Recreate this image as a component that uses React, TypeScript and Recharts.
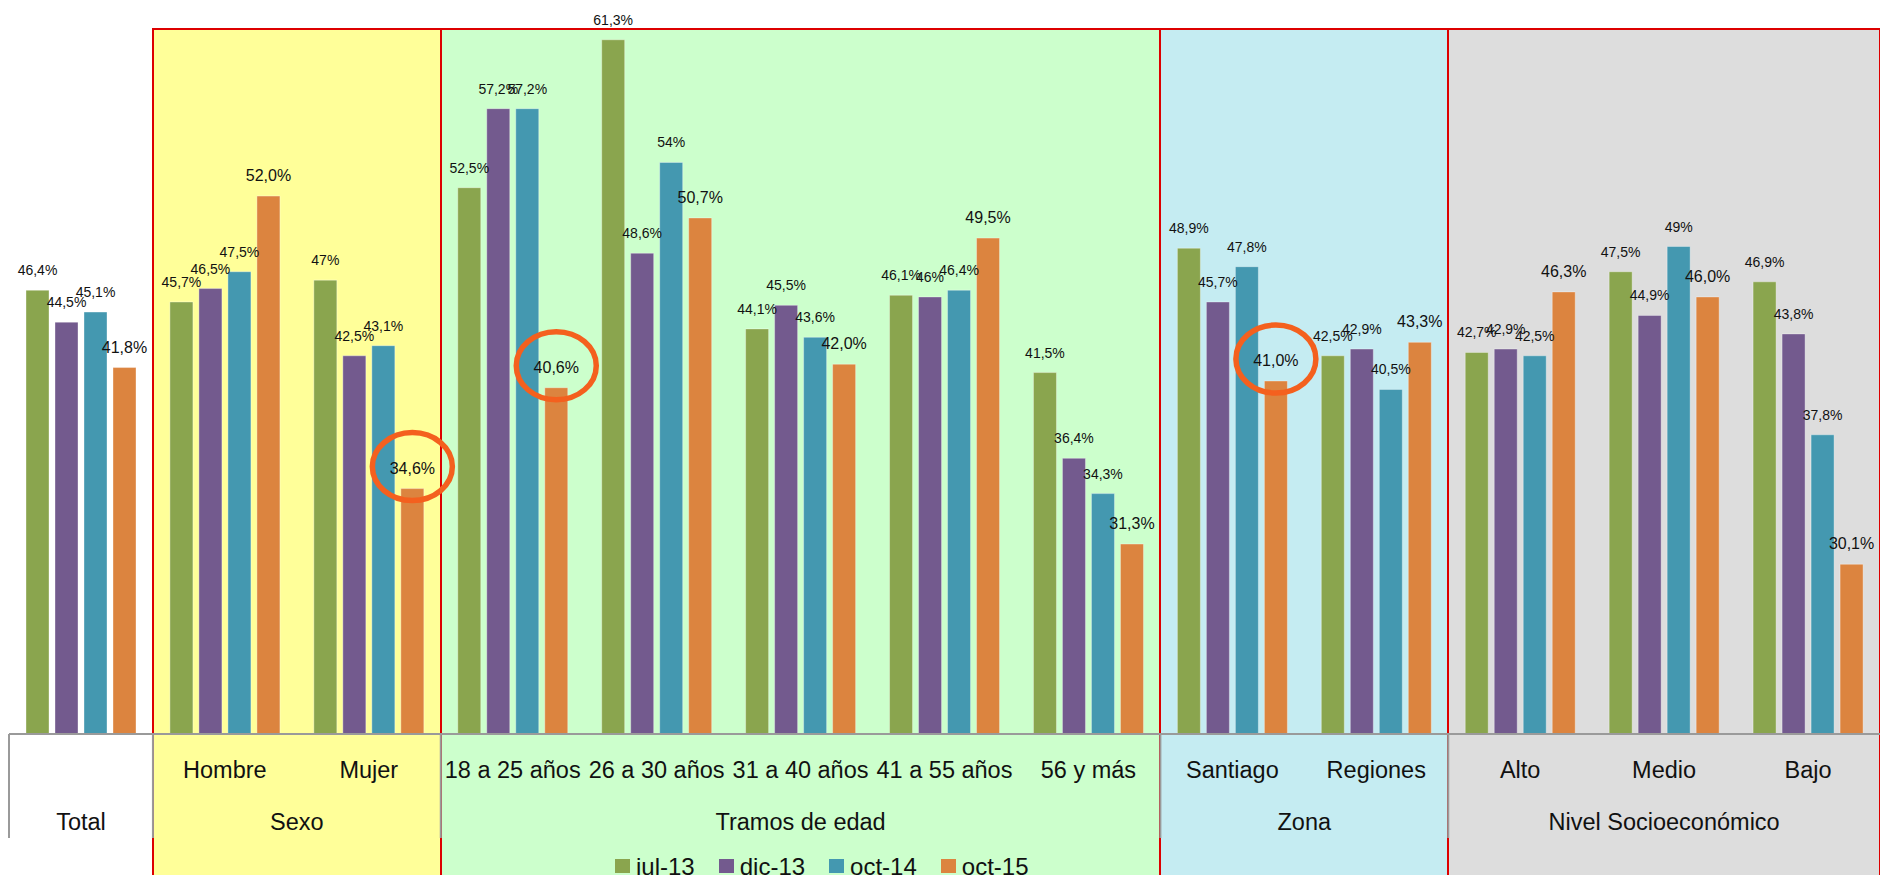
import { BarChart, Bar, XAxis, YAxis, LabelList, Legend } from "recharts";

const categories = [
  "Total",
  "Hombre",
  "Mujer",
  "18 a 25 años",
  "26 a 30 años",
  "31 a 40 años",
  "41 a 55 años",
  "56 y más",
  "Santiago",
  "Regiones",
  "Alto",
  "Medio",
  "Bajo",
];
const groupOf = [
  "Total",
  "Sexo",
  "Sexo",
  "Tramos de edad",
  "Tramos de edad",
  "Tramos de edad",
  "Tramos de edad",
  "Tramos de edad",
  "Zona",
  "Zona",
  "Nivel Socioeconómico",
  "Nivel Socioeconómico",
  "Nivel Socioeconómico",
];

const jul13 = [46.4, 45.7, 47, 52.5, 61.3, 44.1, 46.1, 41.5, 48.9, 42.5, 42.7, 47.5, 46.9];
const dic13 = [44.5, 46.5, 42.5, 57.2, 48.6, 45.5, 46, 36.4, 45.7, 42.9, 42.9, 44.9, 43.8];
const oct14 = [45.1, 47.5, 43.1, 57.2, 54, 43.6, 46.4, 34.3, 47.8, 40.5, 42.5, 49, 37.8];
const oct15 = [41.8, 52.0, 34.6, 40.6, 50.7, 42.0, 49.5, 31.3, 41.0, 43.3, 46.3, 46.0, 30.1];
const highlighted = ["Mujer", "18 a 25 años", "Santiago"];

const seriesNames = ["jul-13", "dic-13", "oct-14", "oct-15"];
const seriesColors = ["#8AA54E", "#735A8E", "#4498B0", "#DC843F"];
const panelColors: Record<string, string> = {
  Sexo: "#FFFF99",
  "Tramos de edad": "#CCFFCC",
  Zona: "#C5ECF2",
  "Nivel Socioeconómico": "#DDDDDD",
};

const FONT = "'Liberation Sans', Arial, sans-serif";
const LABEL_FONT = "'Liberation Sans Narrow', 'Arial Narrow', 'Liberation Sans', sans-serif";
const W = 1880;
const H = 884;
const M_LEFT = 9;
const M_RIGHT = 0;
const BAND = (W - M_LEFT - M_RIGHT) / categories.length;

const data = categories.map((c, i) => ({
  name: c,
  jul13: jul13[i],
  dic13: dic13[i],
  oct14: oct14[i],
  oct15: oct15[i],
  highlight: highlighted.includes(c) ? 1 : 0,
}));

// group spans (start index + count)
const spans: { name: string; start: number; count: number }[] = [];
groupOf.forEach((g, i) => {
  const last = spans[spans.length - 1];
  if (last && last.name === g) last.count++;
  else spans.push({ name: g, start: i, count: 1 });
});

const fmt = (v: any) => {
  const n = Number(v);
  return Number.isInteger(n) ? `${n}%` : `${n.toFixed(1).replace(".", ",")}%`;
};
const fmt1 = (v: any) => `${Number(v).toFixed(1).replace(".", ",")}%`;

function CategoryTick(props: any) {
  const { x, y, payload } = props;
  const i = categories.indexOf(payload.value);
  const g = groupOf[i];
  const span = spans.find((s) => s.name === g)!;
  const pos = i - span.start;
  const groupCenter = x + ((span.count - 1) / 2 - pos) * BAND;
  return (
    <g>
      {payload.value !== g && (
        <text x={x} y={y + 44} textAnchor="middle" fontSize={23.5} fontFamily={FONT} fill="#111">
          {payload.value}
        </text>
      )}
      {pos === 0 && (
        <>
          <line x1={x - BAND / 2} x2={x - BAND / 2} y1={y} y2={y + 104} stroke="#9a9a9a" strokeWidth={2} />
          <text x={groupCenter} y={y + 96} textAnchor="middle" fontSize={23.5} fontFamily={FONT} fill="#111">
            {g}
          </text>
        </>
      )}
    </g>
  );
}

const renderHighlight = (props: any) => {
  if (!props.value) return null;
  const vb = props.viewBox || props;
  const cx = vb.x + vb.width / 2;
  const cy = vb.y - 22;
  return <ellipse cx={cx} cy={cy} rx={40} ry={34} fill="none" stroke="#F4601E" strokeWidth={5.5} />;
};

const renderLegend = () => (
  <div
    style={{
      display: "flex",
      height: 30,
      alignItems: "flex-start",
      fontFamily: FONT,
      fontSize: 24,
      lineHeight: "26px",
      color: "#111",
    }}
  >
    {seriesNames.map((n, i) => (
      <div key={n} style={{ display: "flex", alignItems: "flex-start", marginRight: 24 }}>
        <span style={{ width: 15, height: 14, marginTop: 5, marginRight: 6, background: seriesColors[i] }} />
        <span>{n}</span>
      </div>
    ))}
  </div>
);

export default function App() {
  const keys = ["jul13", "dic13", "oct14", "oct15"];
  return (
    <div style={{ position: "absolute", left: 0, top: 0, width: W, height: 875, overflow: "hidden", background: "#fff" }}>
      {spans
        .filter((s) => panelColors[s.name])
        .map((s) => (
          <div
            key={s.name}
            style={{
              position: "absolute",
              left: M_LEFT + s.start * BAND - 1,
              top: 28,
              width: s.count * BAND + 2,
              height: 875,
              boxSizing: "border-box",
              background: panelColors[s.name],
              borderTop: "2px solid #DD0000",
              borderLeft: "2px solid #DD0000",
              borderRight: "2px solid #DD0000",
            }}
          />
        ))}
      <div style={{ position: "absolute", left: 0, top: 0 }}>
        <BarChart
          width={W}
          height={H}
          data={data}
          margin={{ top: 28, right: M_RIGHT, left: M_LEFT, bottom: 0 }}
          barSize={23}
          barGap={6}
        >
          <XAxis
            dataKey="name"
            interval={0}
            height={120}
            tickSize={0}
            tickMargin={0}
            tickLine={false}
            axisLine={{ stroke: "#9a9a9a", strokeWidth: 2 }}
            tick={<CategoryTick />}
          />
          <YAxis hide width={0} domain={[20, 62]} allowDataOverflow />
          <Legend verticalAlign="bottom" content={renderLegend} wrapperStyle={{ left: 615, width: "auto" }} />
          {keys.map((k, i) => (
            <Bar
              key={k}
              dataKey={k}
              name={seriesNames[i]}
              fill={seriesColors[i]}
              stroke="rgba(255,255,255,0.35)"
              strokeWidth={1}
              isAnimationActive={false}
            >
              <LabelList
                dataKey={k}
                position="top"
                offset={15}
                formatter={i === 3 ? fmt1 : fmt}
                fontSize={i === 3 ? 16 : 14}
                fontFamily={LABEL_FONT}
                fill="#111"
              />
              {i === 3 && <LabelList dataKey="highlight" content={renderHighlight} />}
            </Bar>
          ))}
        </BarChart>
      </div>
    </div>
  );
}
